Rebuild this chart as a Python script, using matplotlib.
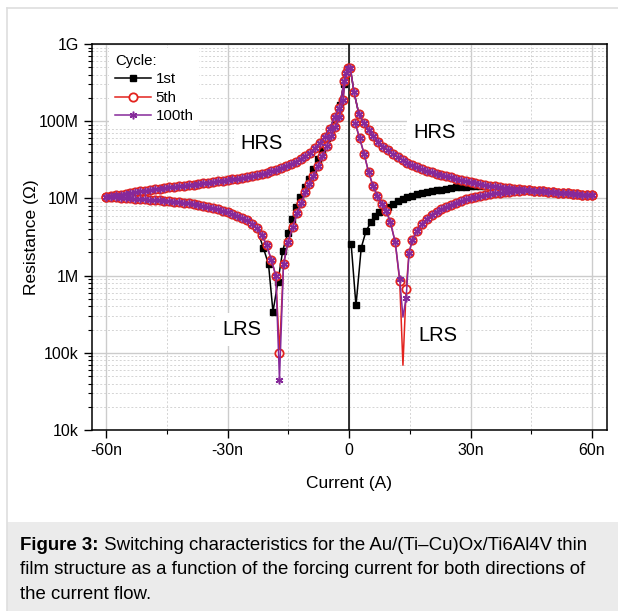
import numpy as np
import matplotlib.pyplot as plt
from matplotlib.patches import Rectangle
from matplotlib.lines import Line2D
from matplotlib.ticker import FixedLocator, LogLocator, NullFormatter

plt.rcParams['font.family'] = ['Liberation Sans', 'DejaVu Sans']

# magnitude of the forcing current steps (nA) used on the HRS branches
sweep_I = [0.3, 1.2, 2.4, 3.6, 4.8, 6.0, 7.2, 8.4, 9.6, 10.8, 12.0, 13.2, 14.4, 15.6, 16.8,
           18.0, 19.2, 20.4, 21.6, 22.8, 24.0, 25.2, 26.4, 27.6, 28.8, 30.0, 31.2, 32.4,
           33.6, 34.8, 36.0, 37.2, 38.4, 39.6, 40.8, 42.0, 43.2, 44.4, 45.6, 46.8, 48.0,
           49.2, 50.4, 51.6, 52.8, 54.0, 55.2, 56.4, 57.6, 58.8, 60.0]

# HRS branches (MOhm), same for all cycles
hrs_neg_R = [490, 330, 150, 112, 80, 63, 52, 45, 39, 35, 32, 30, 28, 26.5, 25, 23.5, 22.5,
             21.5, 20.7, 20, 19.4, 18.9, 18.4, 18.0, 17.6, 17.3, 17.0, 16.6, 16.3, 16.0, 15.7,
             15.4, 15.1, 14.9, 14.6, 14.4, 14.1, 13.9, 13.6, 13.4, 13.1, 12.9, 12.6, 12.3,
             12.1, 11.8, 11.5, 11.2, 11.0, 10.7, 10.5]
hrs_pos_R = [490, 240, 125, 95, 78, 64, 54, 47, 42, 37.5, 34.5, 31.5, 29, 27, 25.5, 24, 22.8,
             21.8, 21, 20.2, 19.4, 18.7, 18, 17.4, 16.8, 16.3, 15.8, 15.4, 15.0, 14.6, 14.3,
             14.0, 13.8, 13.5, 13.3, 13.1, 12.9, 12.7, 12.6, 12.4, 12.3, 12.1, 12.0, 11.9,
             11.8, 11.6, 11.5, 11.4, 11.2, 11.1, 11.0]

# negative LRS branch (-60n -> 0), 5th and 100th cycle
lrs_neg_I = [-60.0, -58.8, -57.6, -56.4, -55.2, -54.0, -52.8, -51.6, -50.4, -49.2, -48.0,
             -46.8, -45.6, -44.4, -43.2, -42.0, -40.8, -39.6, -38.4, -37.2, -36.0, -34.8,
             -33.6, -32.4, -31.2, -30.0, -28.8, -27.6, -26.4, -25.2, -24.0, -22.8, -21.6,
             -20.4, -19.2, -18.1, -17.2, -16.2, -15.1, -13.9, -12.8, -11.8, -10.8, -9.8,
             -8.8, -7.7, -6.6, -5.5, -4.4, -3.4, -2.4, -1.5, -0.8]
lrs_neg_R5 = [10.5, 10.4, 10.3, 10.2, 10.1, 10.0, 9.9, 9.8, 9.7, 9.6, 9.5, 9.4, 9.3, 9.2, 9.1,
              8.9, 8.8, 8.6, 8.4, 8.2, 8.0, 7.8, 7.5, 7.2, 6.9, 6.6, 6.3, 6.0, 5.6, 5.2, 4.7,
              4.1, 3.4, 2.5, 1.6, 1.0, 0.10, 1.4, 2.7, 4.3, 6.5, 8.7, 12.0, 15.5, 19.5, 26,
              35, 48, 64, 84, 112, 190, 420]
lrs_neg_R100 = [10.5, 10.4, 10.3, 10.2, 10.1, 10.0, 9.9, 9.8, 9.7, 9.6, 9.5, 9.4, 9.3, 9.2, 9.1,
                8.9, 8.8, 8.6, 8.4, 8.2, 8.0, 7.8, 7.5, 7.2, 6.9, 6.6, 6.3, 6.0, 5.6, 5.2, 4.7,
                4.1, 3.4, 2.5, 1.6, 1.0, 0.045, 1.4, 2.7, 4.3, 6.5, 8.7, 12.0, 15.5, 19.5, 26,
                35, 48, 64, 84, 112, 190, 420]

# negative LRS branch, 1st cycle
lrs_neg_I1 = [-60.0, -58.8, -57.6, -56.4, -55.2, -54.0, -52.8, -51.6, -50.4, -49.2, -48.0,
              -46.8, -45.6, -44.4, -43.2, -42.0, -40.8, -39.6, -38.4, -37.2, -36.0, -34.8,
              -33.6, -32.4, -31.2, -30.0, -28.8, -27.6, -26.4, -25.2, -24.0, -22.8, -21.2,
              -19.9, -18.8, -17.6, -16.4, -15.1, -14.0, -13.1, -12.1, -11.0, -9.9, -8.8,
              -7.7, -6.6, -5.5, -4.4, -3.3, -2.2, -1.2]
lrs_neg_R1 = [10.5, 10.4, 10.3, 10.2, 10.1, 10.0, 9.9, 9.8, 9.7, 9.6, 9.5, 9.4, 9.3, 9.2, 9.1,
              8.9, 8.8, 8.6, 8.4, 8.2, 8.0, 7.8, 7.5, 7.2, 6.9, 6.6, 6.3, 6.0, 5.6, 5.2, 4.7,
              4.1, 2.3, 1.4, 0.34, 0.82, 2.1, 3.6, 5.4, 7.8, 10.5, 14, 18, 24, 32, 44, 60, 80,
              110, 160, 300]

# positive LRS branch (60n -> 0), 5th and 100th cycle
lrs_pos_I = [60.0, 58.8, 57.6, 56.4, 55.2, 54.0, 52.8, 51.6, 50.4, 49.2, 48.0, 46.8, 45.6,
             44.4, 43.2, 42.0, 40.8, 39.6, 38.4, 37.2, 36.0, 34.8, 33.6, 32.4, 31.2, 30.0,
             28.8, 27.6, 26.4, 25.2, 24.0, 22.8, 21.6, 20.4, 19.2, 18.0, 16.8, 15.6, 14.8,
             14.1, 13.3, 12.5, 11.4, 10.2, 9.2, 8.1, 7.0, 5.9, 4.8, 3.7, 2.6, 1.5]
lrs_pos_R5 = [11.0, 11.1, 11.2, 11.4, 11.5, 11.6, 11.8, 11.9, 12.0, 12.1, 12.3, 12.4, 12.6,
              12.7, 12.7, 12.6, 12.4, 12.2, 12.0, 11.8, 11.6, 11.3, 11.0, 10.7, 10.4, 10.1,
              9.7, 9.3, 8.8, 8.3, 7.8, 7.3, 6.7, 6.1, 5.4, 4.6, 3.8, 2.9, 1.95, 0.68, 0.069,
              0.85, 2.7, 4.9, 6.8, 8.5, 10.8, 14.5, 22, 38, 60, 95]
lrs_pos_R100 = [11.0, 11.1, 11.2, 11.4, 11.5, 11.6, 11.8, 11.9, 12.0, 12.1, 12.3, 12.4, 12.6,
                12.7, 12.7, 12.6, 12.4, 12.2, 12.0, 11.8, 11.6, 11.3, 11.0, 10.7, 10.4, 10.1,
                9.7, 9.3, 8.8, 8.3, 7.8, 7.3, 6.7, 6.1, 5.4, 4.6, 3.8, 2.9, 1.95, 0.52, 0.29,
                0.9, 2.7, 4.9, 6.8, 8.5, 10.8, 14.5, 22, 38, 60, 95]
lrs_pos_spike = 40  # point of the positive set spike drawn without a marker

# positive LRS branch (0 -> 60n), 1st cycle
lrs_pos_I1 = [0.5, 1.7, 3.0, 4.2, 5.4, 6.4, 7.4, 8.4, 9.6, 10.8, 12.0, 13.2, 14.4, 15.6, 16.8,
              18.0, 19.2, 20.4, 21.6, 22.8, 24.0, 25.2, 26.4, 27.6, 28.8, 30.0, 31.2, 32.4,
              33.6, 34.8, 36.0, 37.2, 38.4, 39.6, 40.8, 42.0, 43.2, 44.4, 45.6, 46.8, 48.0,
              49.2, 50.4, 51.6, 52.8, 54.0, 55.2, 56.4, 57.6, 58.8, 60.0]
lrs_pos_R1 = [2.6, 0.41, 2.3, 3.8, 4.9, 5.9, 6.6, 7.1, 7.8, 8.5, 9.3, 9.9, 10.4, 10.9, 11.3,
              11.7, 12.1, 12.4, 12.7, 13.0, 13.3, 13.6, 13.9, 14.1, 14.2, 14.3, 14.4, 14.5,
              14.5, 14.4, 14.2, 14.0, 13.8, 13.5, 13.3, 13.1, 12.9, 12.7, 12.6, 12.4, 12.3,
              12.1, 12.0, 11.9, 11.8, 11.6, 11.5, 11.4, 11.2, 11.1, 11.0]

x_ticks = [-60, -30, 0, 30, 60]
x_labels = ['-60n', '-30n', '0', '30n', '60n']
x_minor = [-45, -15, 15, 45]
y_ticks = [1e4, 1e5, 1e6, 1e7, 1e8, 1e9]
y_labels = ['10k', '100k', '1M', '10M', '100M', '1G']

caption_bold = 'Figure 3:'
caption_lines = [' Switching characteristics for the Au/(Ti\u2013Cu)Ox/Ti6Al4V thin',
                 'film structure as a function of the forcing current for both directions of',
                 'the current flow.']

W, H = 618, 611
fig = plt.figure(figsize=(W / 100, H / 100), dpi=100)

# caption panel and light frame
fig.patches.append(Rectangle((7 / W, 0), 1, 89 / H, transform=fig.transFigure,
                             facecolor='#ebebeb', edgecolor='none', zorder=0))
fig.lines.append(Line2D([7 / W, 7 / W], [0, 1 - 8 / H], transform=fig.transFigure,
                        color='#dedede', lw=1.2))
fig.lines.append(Line2D([7 / W, 1], [1 - 8 / H, 1 - 8 / H], transform=fig.transFigure,
                        color='#dedede', lw=1.2))

ax = fig.add_axes([92 / W, 181 / H, 515 / W, 386 / H])

black, red, purple = 'black', '#e3231e', '#86299a'


def draw(I, R, color, marker, ms, mfc, mew, z, label=None, skip=None):
    keep = [i for i in range(len(I)) if i != skip]
    ax.plot(I, np.array(R) * 1e6, color=color, lw=1.1, marker=marker, ms=ms,
            mfc=mfc, mec=color, mew=mew, markevery=keep, zorder=z, label=label)


neg_I = [-v for v in sweep_I]

# 1st cycle
sq = dict(color=black, marker='s', ms=4.8, mfc=black, mew=1.0, z=3)
draw(neg_I, hrs_neg_R, label='1st', **sq)
draw(lrs_neg_I1, lrs_neg_R1, **sq)
draw(sweep_I, hrs_pos_R, **sq)
draw(lrs_pos_I1, lrs_pos_R1, **sq)
# 5th cycle
ci = dict(color=red, marker='o', ms=6.0, mfc='white', mew=1.3, z=4)
draw(neg_I, hrs_neg_R, label='5th', **ci)
draw(lrs_neg_I, lrs_neg_R5, **ci)
draw(sweep_I, hrs_pos_R, **ci)
draw(lrs_pos_I, lrs_pos_R5, skip=lrs_pos_spike, **ci)
# 100th cycle
st = dict(color=purple, marker=(6, 2, 0), ms=5.5, mfc=purple, mew=1.1, z=5)
draw(neg_I, hrs_neg_R, label='100th', **st)
draw(lrs_neg_I, lrs_neg_R100, **st)
draw(sweep_I, hrs_pos_R, **st)
draw(lrs_pos_I, lrs_pos_R100, skip=lrs_pos_spike, **st)

ax.axvline(0, color='black', lw=1.1, zorder=2)

ax.set_yscale('log')
ax.set_xlim(-63.5, 63.7)
ax.set_ylim(1e4, 1e9)
ax.xaxis.set_major_locator(FixedLocator(x_ticks))
ax.set_xticklabels(x_labels)
ax.xaxis.set_minor_locator(FixedLocator(x_minor))
ax.yaxis.set_major_locator(FixedLocator(y_ticks))
ax.set_yticklabels(y_labels)
ax.yaxis.set_minor_locator(LogLocator(base=10, subs=np.arange(2, 10)))
ax.yaxis.set_minor_formatter(NullFormatter())
ax.tick_params(which='major', direction='out', length=5.5, width=1.0, labelsize=11.5, pad=4)
ax.tick_params(which='minor', direction='out', length=2.8, width=0.8)
ax.tick_params(top=False, right=False)
for s in ax.spines.values():
    s.set_linewidth(1.1)

ax.set_axisbelow(True)
ax.grid(which='major', color='#cccccc', lw=1.0, ls='-')
ax.grid(which='minor', color='#d4d4d4', lw=0.7, ls=(0, (2, 2)))

ax.set_xlabel('Current (A)', fontsize=12.5, labelpad=13)
ax.set_ylabel('Resistance (\u03a9)', fontsize=12.5, labelpad=0)

box = dict(boxstyle='square,pad=0.35', facecolor='white', edgecolor='none')
ax.text(-21.5, 5.2e7, 'HRS', fontsize=14.5, ha='center', va='center', bbox=box, zorder=6)
ax.text(21.2, 7.1e7, 'HRS', fontsize=14.5, ha='center', va='center', bbox=box, zorder=6)
ax.text(-26.4, 2.0e5, 'LRS', fontsize=14.5, ha='center', va='center', bbox=box, zorder=6)
ax.text(22.0, 1.7e5, 'LRS', fontsize=14.5, ha='center', va='center', bbox=box, zorder=6)

leg = ax.legend(title='Cycle:', loc='upper left', bbox_to_anchor=(0.033, 0.99),
                borderaxespad=0, fontsize=10.8, title_fontsize=10.8, frameon=True,
                facecolor='white', edgecolor='none', framealpha=1, fancybox=False,
                handlelength=2.4, handletextpad=0.3, labelspacing=0.3, borderpad=0.4,
                numpoints=1)
leg._legend_box.align = 'left'
leg.set_zorder(7)

# caption
fs = 13.4
y0 = 1 - 550 / H
t1 = fig.text(20.5 / W, y0, caption_bold, fontsize=fs, fontweight='bold', va='baseline')
renderer = fig.canvas.get_renderer()
w1 = t1.get_window_extent(renderer).width / W
fig.text(20.5 / W + w1, y0, caption_lines[0], fontsize=fs, va='baseline')
fig.text(20.5 / W, 1 - 574.5 / H, caption_lines[1], fontsize=fs, va='baseline')
fig.text(20.5 / W, 1 - 599 / H, caption_lines[2], fontsize=fs, va='baseline')

fig.savefig('out.png', dpi=100)
